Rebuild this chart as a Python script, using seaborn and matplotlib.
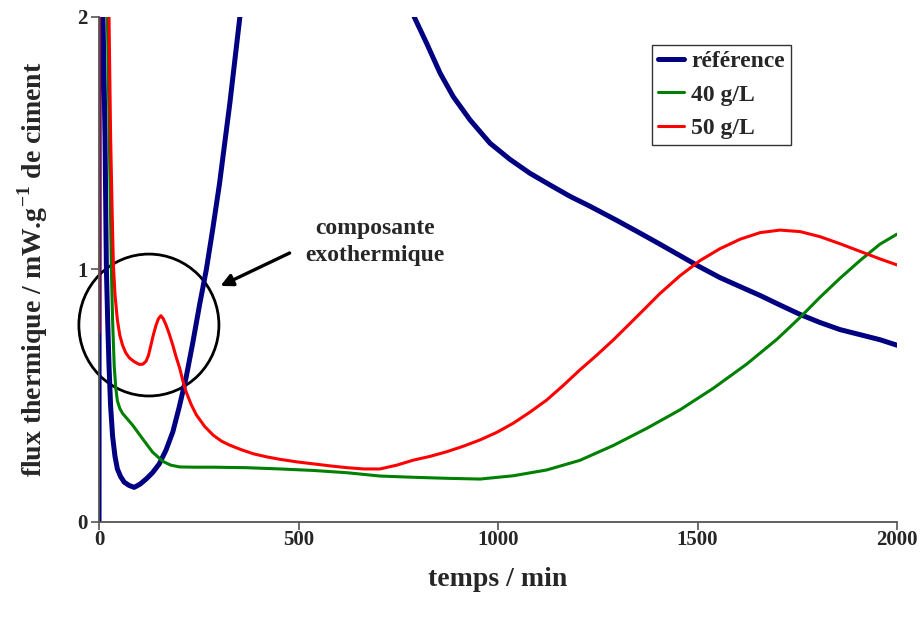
import numpy as np
import pandas as pd
import matplotlib
matplotlib.use("Agg")
import matplotlib.pyplot as plt
from matplotlib.patches import Ellipse
import seaborn as sns

# values (time in min, heat flow in mW/g)
ref_t = [0, 1, 5, 10, 15, 18.5, 22, 25, 29, 34, 40, 46, 54, 63, 75, 88, 103, 118, 134, 151, 168,
         185, 201, 218, 235, 252, 269, 285, 302, 328, 353,
         420, 520, 620, 720, 790, 821, 855, 888, 930, 980, 1030, 1080, 1130, 1180, 1231, 1297,
         1364, 1406, 1456, 1506, 1556, 1607, 1657, 1707, 1757, 1807, 1857, 1907, 1957, 2000]
ref_flux = [0, 5.0, 3.2, 2.0, 1.53, 1.0, 0.78, 0.62, 0.46, 0.34, 0.26, 0.21, 0.18, 0.158, 0.145,
            0.137, 0.15, 0.17, 0.195, 0.23, 0.285, 0.357, 0.455, 0.57, 0.71, 0.86, 1.0, 1.16,
            1.34, 1.66, 2.0, 2.7, 3.2, 3.1, 2.5, 2.0, 1.896, 1.777, 1.684, 1.592, 1.50, 1.436,
            1.381, 1.335, 1.29, 1.25, 1.195, 1.137, 1.10, 1.055, 1.01, 0.968, 0.932, 0.897,
            0.859, 0.822, 0.79, 0.762, 0.742, 0.722, 0.70]

g40_t = [2, 10, 21, 27, 31, 34, 38, 42, 46, 52, 59, 84, 109, 134, 160, 180, 202, 240, 286, 370,
         454, 538, 622, 704, 788, 871, 955, 1038, 1122, 1205, 1289, 1373, 1456, 1540, 1623, 1700,
         1757, 1807, 1857, 1907, 1957, 2000]
g40_flux = [5.0, 3.0, 2.0, 1.40, 1.0, 0.80, 0.62, 0.53, 0.48, 0.45, 0.43, 0.384, 0.33, 0.277,
            0.24, 0.225, 0.218, 0.217, 0.217, 0.215, 0.21, 0.204, 0.195, 0.182, 0.177, 0.173,
            0.17, 0.183, 0.206, 0.244, 0.303, 0.371, 0.444, 0.530, 0.625, 0.725, 0.81, 0.89,
            0.965, 1.035, 1.1, 1.14]

g50_t = [0, 1, 10, 25, 29, 33, 36, 40, 46, 52, 59, 67, 76, 88, 101, 110, 118, 124, 130, 136, 143,
         149, 155, 161, 168, 176, 185, 193, 202, 210, 218, 231, 244, 265, 286, 307, 328, 357, 387,
         420, 454, 496, 538, 580, 622, 663, 704, 746, 788, 830, 871, 913, 955, 997, 1038, 1080,
         1122, 1163, 1205, 1247, 1289, 1330, 1365, 1406, 1456, 1506, 1556, 1607, 1657, 1707,
         1757, 1807, 1857, 1907, 1957, 2000]
g50_flux = [0.75, 4.5, 3.2, 2.0, 1.53, 1.22, 1.02, 0.90, 0.80, 0.74, 0.70, 0.67, 0.65, 0.635,
            0.624, 0.625, 0.637, 0.66, 0.70, 0.74, 0.78, 0.805, 0.817, 0.805, 0.78, 0.745, 0.70,
            0.655, 0.61, 0.56, 0.517, 0.465, 0.424, 0.378, 0.344, 0.32, 0.304, 0.286, 0.27, 0.258,
            0.248, 0.238, 0.23, 0.222, 0.215, 0.21, 0.21, 0.225, 0.245, 0.26, 0.278, 0.3, 0.325,
            0.355, 0.391, 0.435, 0.483, 0.54, 0.602, 0.66, 0.721, 0.785, 0.84, 0.905, 0.975,
            1.035, 1.082, 1.12, 1.146, 1.156, 1.15, 1.13, 1.102, 1.072, 1.042, 1.018]

series_names = ["référence", "40 g/L", "50 g/L"]
series_colors = ["#000080", "#008000", "#FF0000"]
series_widths = [3.6, 2.2, 2.2]

sns.set_style("white")
plt.rcParams["font.family"] = ["Liberation Serif", "DejaVu Serif"]
plt.rcParams["font.weight"] = "bold"
plt.rcParams["mathtext.fontset"] = "custom"
plt.rcParams["mathtext.rm"] = "Liberation Serif:bold"
plt.rcParams["mathtext.bf"] = "Liberation Serif:bold"

fig = plt.figure(figsize=(9.22, 6.22), dpi=100)
ax = fig.add_axes([0.1074, 0.1608, 0.8655, 0.8119])

data = [(ref_t, ref_flux), (g40_t, g40_flux), (g50_t, g50_flux)]
for (t, f), name, col, lw in zip(data, series_names, series_colors, series_widths):
    df = pd.DataFrame({"temps": t, "flux": f})
    sns.lineplot(data=df, x="temps", y="flux", color=col, lw=lw, label=name,
                 ax=ax, sort=False, estimator=None)

ax.set_xlim(0, 2000)
ax.set_ylim(0, 2)
ax.set_xticks([0, 500, 1000, 1500, 2000])
ax.set_yticks([0, 1, 2])
ax.tick_params(axis="both", labelsize=15, direction="out", length=6, width=1.2,
               color="#555555", left=True, bottom=True)
ax.tick_params(axis="x", pad=0)
ax.tick_params(axis="y", pad=2)
for lab in ax.get_xticklabels() + ax.get_yticklabels():
    lab.set_fontweight("bold")
for side in ["top", "right"]:
    ax.spines[side].set_visible(False)
for side in ["left", "bottom"]:
    ax.spines[side].set_color("#555555")
    ax.spines[side].set_linewidth(1.3)

ax.set_xlabel("temps / min", fontsize=20, fontweight="bold", labelpad=12)
ax.set_ylabel("flux thermique / mW.g$^{\\mathbf{-1}}$ de ciment", fontsize=20,
              fontweight="bold", labelpad=20)

# annotation: circle around the exothermic bump and arrow
circ = Ellipse((125, 0.78), width=351, height=0.562, fill=False, edgecolor="black",
               lw=2.0, clip_on=False)
ax.add_patch(circ)
ax.annotate("", xy=(298, 0.93), xytext=(484, 1.07),
            arrowprops=dict(arrowstyle="-|>", color="black", lw=2.4, mutation_scale=18))
ax.text(692, 1.11, "composante\nexothermique", ha="center", va="center",
        fontsize=17, fontweight="bold", linespacing=1.35)

leg = ax.legend(loc="upper left", bbox_to_anchor=(0.693, 0.945), borderaxespad=0,
                frameon=True, fancybox=False, edgecolor="black",
                handlelength=1.1, handletextpad=0.3, labelspacing=0.5, borderpad=0.25,
                prop={"weight": "bold", "size": 17})
leg.get_frame().set_linewidth(1.0)

fig.savefig("out.png", dpi=100)
